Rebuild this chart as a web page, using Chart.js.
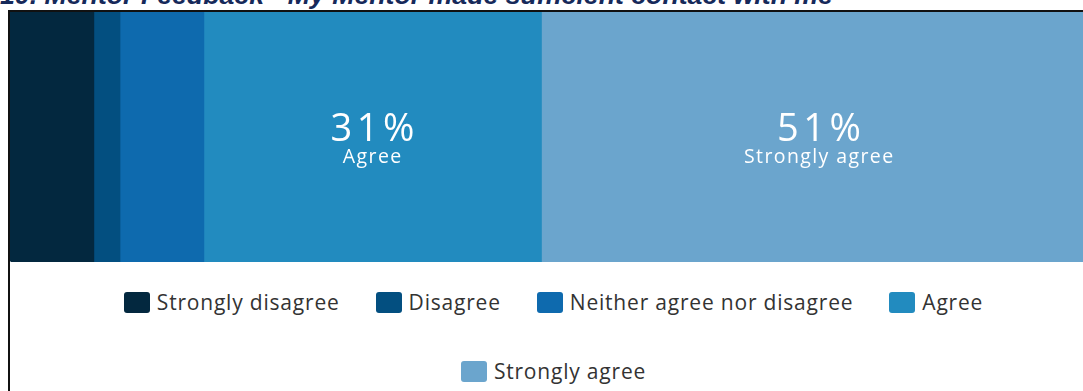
<!DOCTYPE html>
<html>
<head>
<meta charset="utf-8">
<script src="https://cdn.jsdelivr.net/npm/chart.js@4/dist/chart.umd.min.js"></script>
<style>
  html, body { margin: 0; padding: 0; background: #fff; overflow: hidden; }
  body { width: 1083px; height: 391px; position: relative; }
  #title {
    position: absolute; left: 0; top: -18px; white-space: nowrap;
    font: italic bold 26.7px/27px "Liberation Sans", Arial, sans-serif;
    color: #16295a;
  }
  #frame {
    position: absolute; left: 8px; top: 10px; width: 1200px; height: 400px;
    border-left: 2px solid #111; border-top: 2px solid #111;
  }
  #chartBox { position: absolute; left: 10px; top: 12px; width: 1087px; height: 250px; }
  #legend { position: absolute; left: 10px; top: 0; width: 1087px; }
  .row { position: absolute; left: 0; width: 100%; display: flex; justify-content: center; gap: 36px; }
  .item { display: flex; align-items: center; gap: 7px; font: 21px "Open Sans", sans-serif; letter-spacing: 0.8px; color: #333; }
  .swatch { width: 26px; height: 21px; border-radius: 3px; }
</style>
</head>
<body>
<div id="title">10. Mentor Feedback - My Mentor made sufficient contact with me</div>
<div id="frame"></div>
<div id="chartBox"><canvas id="chart"></canvas></div>
<div id="legend"></div>
<script>
// Response categories and their share of answers (%)
const categories = ['Strongly disagree', 'Disagree', 'Neither agree nor disagree', 'Agree', 'Strongly agree'];
const shares = [7.7, 2.4, 7.7, 31, 51];
const colors = ['#03283f', '#034f80', '#0e6aae', '#228bbf', '#6ba5cd'];
const legendRows = [[0, 1, 2, 3], [4]];

const total = shares.reduce((a, b) => a + b, 0);

// Percent + category caption centred inside the wider segments
const segmentLabels = {
  id: 'segmentLabels',
  afterDatasetsDraw(chart) {
    const ctx = chart.ctx;
    chart.data.datasets.forEach((ds, i) => {
      const v = ds.data[0];
      if (v < 15) return;
      const el = chart.getDatasetMeta(i).data[0];
      const cx = (el.x + el.base) / 2;
      const cy = el.y;
      ctx.save();
      ctx.fillStyle = '#ffffff';
      ctx.textAlign = 'center';
      ctx.textBaseline = 'middle';
      ctx.font = '38px "Open Sans", sans-serif';
      ctx.letterSpacing = '4.5px';
      ctx.fillText(Math.round(v) + '%', cx + 2, cy - 7);
      ctx.font = '19.5px "Open Sans", sans-serif';
      ctx.letterSpacing = '1.4px';
      ctx.fillText(ds.label, cx, cy + 20);
      ctx.restore();
    });
  }
};

new Chart(document.getElementById('chart'), {
  type: 'bar',
  data: {
    labels: [''],
    datasets: categories.map((c, i) => ({
      label: c,
      data: [shares[i]],
      backgroundColor: colors[i],
      borderWidth: 0,
      borderSkipped: false,
      borderRadius: i === 0 ? { topLeft: 0, bottomLeft: 3, topRight: 0, bottomRight: 0 } : 0,
      barPercentage: 1,
      categoryPercentage: 1
    }))
  },
  options: {
    indexAxis: 'y',
    responsive: true,
    maintainAspectRatio: false,
    animation: false,
    layout: { padding: 0 },
    scales: {
      x: { stacked: true, display: false, min: 0, max: total },
      y: { stacked: true, display: false }
    },
    plugins: {
      legend: { display: false },
      tooltip: { enabled: false }
    }
  },
  plugins: [segmentLabels]
});

// Legend rows built from the same category/colour arrays
const legendEl = document.getElementById('legend');
const rowTops = [288, 357];
legendRows.forEach((idxs, r) => {
  const row = document.createElement('div');
  row.className = 'row';
  row.style.top = rowTops[r] + 'px';
  idxs.forEach(i => {
    const item = document.createElement('div');
    item.className = 'item';
    const sw = document.createElement('span');
    sw.className = 'swatch';
    sw.style.background = colors[i];
    const tx = document.createElement('span');
    tx.textContent = categories[i];
    item.appendChild(sw);
    item.appendChild(tx);
    row.appendChild(item);
  });
  legendEl.appendChild(row);
});
</script>
</body>
</html>
